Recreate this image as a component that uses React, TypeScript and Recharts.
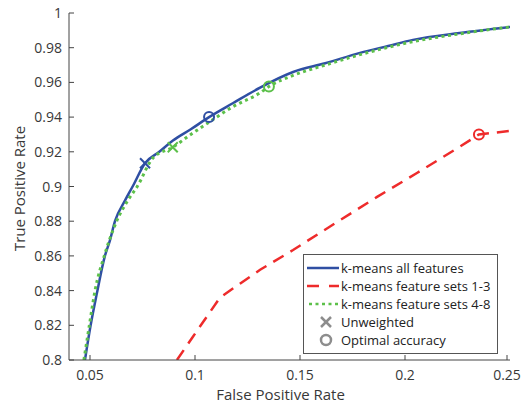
import { ComposedChart, Line, Scatter, XAxis, YAxis, Legend, Label } from "recharts";

// ROC curves
const allX = [0.0476, 0.0503, 0.0532, 0.0571, 0.0595, 0.0619, 0.0667, 0.0703, 0.0762, 0.083, 0.0895, 0.098, 0.1067, 0.118, 0.131, 0.1467, 0.162, 0.1786, 0.192, 0.2038, 0.226, 0.25];
const allY = [0.8, 0.82, 0.838, 0.86, 0.869, 0.88, 0.892, 0.9, 0.9134, 0.92, 0.9265, 0.933, 0.94, 0.948, 0.957, 0.966, 0.971, 0.977, 0.981, 0.9845, 0.9885, 0.992];

const sets13X = [0.0914, 0.0986, 0.1119, 0.1214, 0.131, 0.1467, 0.1676, 0.1867, 0.2057, 0.2262, 0.2352, 0.25];
const sets13Y = [0.8, 0.8127, 0.836, 0.844, 0.852, 0.8634, 0.8795, 0.894, 0.9078, 0.923, 0.93, 0.932];

const sets48X = [0.0471, 0.0497, 0.0524, 0.0568, 0.0627, 0.068, 0.0725, 0.08, 0.0894, 0.098, 0.107, 0.118, 0.131, 0.1352, 0.1467, 0.162, 0.1786, 0.2038, 0.226, 0.25];
const sets48Y = [0.8, 0.82, 0.84, 0.86, 0.88, 0.892, 0.9, 0.9165, 0.9226, 0.93, 0.9373, 0.946, 0.954, 0.9576, 0.964, 0.97, 0.976, 0.9835, 0.988, 0.992];

// operating points: [fpr, tpr]
const unweightedAll = [0.0762, 0.9134];
const unweighted48 = [0.0894, 0.9226];
const optimalAll = [0.1067, 0.94];
const optimal48 = [0.1352, 0.9576];
const optimal13 = [0.2352, 0.93];

const xTicks = [0.05, 0.1, 0.15, 0.2, 0.25];
const yTicks = [0.8, 0.82, 0.84, 0.86, 0.88, 0.9, 0.92, 0.94, 0.96, 0.98, 1];

const BLUE = "#2f4fa3";
const RED = "#ee2b2b";
const GREEN = "#5cc04a";
const GRAY = "#8d8d8d";
const AXIS = "#444";
const TEXT = "#383838";
const FONT = "'Open Sans', sans-serif";

const toPts = (xs: number[], ys: number[]) => xs.map((x, i) => ({ x, y: ys[i] }));
const pt = (p: number[]) => [{ x: p[0], y: p[1] }];
const fmt = (v: number) => String(Number(v.toFixed(2)));

const XTick = (props: any) => {
  const { x, y, payload } = props;
  return (
    <g>
      <line x1={x} y1={y} x2={x} y2={y - 5} stroke={AXIS} strokeWidth={1} />
      <text x={x} y={y + 20} textAnchor="middle" fontSize={14} fill={TEXT} fontFamily={FONT}>
        {fmt(payload.value)}
      </text>
    </g>
  );
};

const YTick = (props: any) => {
  const { x, y, payload } = props;
  return (
    <g>
      <line x1={x} y1={y} x2={x + 5} y2={y} stroke={AXIS} strokeWidth={1} />
      <text x={x - 7} y={y + 5} textAnchor="end" fontSize={14} fill={TEXT} fontFamily={FONT}>
        {fmt(payload.value)}
      </text>
    </g>
  );
};

const Cross = (color: string) => (props: any) => {
  const { cx, cy } = props;
  const s = 5;
  return (
    <g stroke={color} strokeWidth={2}>
      <line x1={cx - s} y1={cy - s} x2={cx + s} y2={cy + s} />
      <line x1={cx - s} y1={cy + s} x2={cx + s} y2={cy - s} />
    </g>
  );
};

const Ring = (color: string) => (props: any) => {
  const { cx, cy } = props;
  return <circle cx={cx} cy={cy} r={5} fill="none" stroke={color} strokeWidth={2} />;
};

const legendRows = [
  { label: "k-means all features", kind: "solid" },
  { label: "k-means feature sets 1-3", kind: "dash" },
  { label: "k-means feature sets 4-8", kind: "dot" },
  { label: "Unweighted", kind: "cross" },
  { label: "Optimal accuracy", kind: "ring" },
];

const Sample = ({ kind }: { kind: string }) => (
  <svg width={34} height={14} style={{ display: "block", flexShrink: 0 }}>
    {kind === "solid" && <line x1={2} y1={7} x2={34} y2={7} stroke={BLUE} strokeWidth={2.5} />}
    {kind === "dash" && <line x1={2} y1={7} x2={34} y2={7} stroke={RED} strokeWidth={2.5} strokeDasharray="12 10" />}
    {kind === "dot" && <line x1={4} y1={7} x2={34} y2={7} stroke={GREEN} strokeWidth={2.5} strokeDasharray="3 3.5" />}
    {kind === "cross" && (
      <g stroke={GRAY} strokeWidth={2.5}>
        <line x1={16} y1={2} x2={26} y2={12} />
        <line x1={16} y1={12} x2={26} y2={2} />
      </g>
    )}
    {kind === "ring" && <circle cx={21} cy={7} r={5} fill="none" stroke={GRAY} strokeWidth={2.5} />}
  </svg>
);

const LegendBox = () => (
  <div
    style={{
      border: "1px solid #555",
      background: "#fff",
      padding: "4px 0 4px 1px",
      fontFamily: FONT,
      fontSize: 13,
      lineHeight: "18px",
      color: "#222",
      width: 195,
      boxSizing: "border-box",
    }}
  >
    {legendRows.map((r) => (
      <div key={r.label} style={{ display: "flex", alignItems: "center", height: 18 }}>
        <Sample kind={r.kind} />
        <span style={{ marginLeft: 2, whiteSpace: "nowrap" }}>{r.label}</span>
      </div>
    ))}
  </div>
);

export default function App() {
  return (
    <div style={{ position: "absolute", left: 0, top: 0, background: "#fff" }}>
      <ComposedChart width={521} height={407} margin={{ top: 13, right: 11, bottom: 5, left: 0 }}>
        <XAxis
          dataKey="x"
          type="number"
          domain={[0.04, 0.25]}
          ticks={xTicks}
          allowDataOverflow
          stroke={AXIS}
          tickLine={false}
          tickSize={0}
          tickMargin={0}
          tick={<XTick />}
          height={42}
        >
          <Label
            value="False Positive Rate"
            position="insideBottom"
            offset={2}
            dx={-9}
            style={{ fontSize: 15, fill: TEXT, fontFamily: FONT }}
          />
        </XAxis>
        <YAxis
          dataKey="y"
          type="number"
          domain={[0.8, 1]}
          ticks={yTicks}
          allowDataOverflow
          stroke={AXIS}
          tickLine={false}
          tickSize={0}
          tickMargin={0}
          tick={<YTick />}
          width={69}
        >
          <Label
            value="True Positive Rate"
            angle={-90}
            position="insideLeft"
            offset={20}
            dy={2}
            style={{ fontSize: 15, fill: TEXT, fontFamily: FONT, textAnchor: "middle" }}
          />
        </YAxis>
        <Line data={toPts(sets13X, sets13Y)} dataKey="y" type="linear" stroke={RED} strokeWidth={2.5} strokeDasharray="12 8" dot={false} isAnimationActive={false} />
        <Line data={toPts(allX, allY)} dataKey="y" type="monotone" stroke={BLUE} strokeWidth={2.5} dot={false} isAnimationActive={false} />
        <Line data={toPts(sets48X, sets48Y)} dataKey="y" type="monotone" stroke={GREEN} strokeWidth={3} strokeDasharray="3 3.5" dot={false} isAnimationActive={false} />
        <Scatter data={pt(unweightedAll)} shape={Cross(BLUE)} isAnimationActive={false} />
        <Scatter data={pt(unweighted48)} shape={Cross(GREEN)} isAnimationActive={false} />
        <Scatter data={pt(optimalAll)} shape={Ring(BLUE)} isAnimationActive={false} />
        <Scatter data={pt(optimal48)} shape={Ring(GREEN)} isAnimationActive={false} />
        <Scatter data={pt(optimal13)} shape={Ring(RED)} isAnimationActive={false} />
        <Legend
          layout="horizontal"
          verticalAlign="middle"
          align="center"
          content={<LegendBox />}
          wrapperStyle={{ left: 303, top: 254, width: 197 }}
        />
      </ComposedChart>
    </div>
  );
}
